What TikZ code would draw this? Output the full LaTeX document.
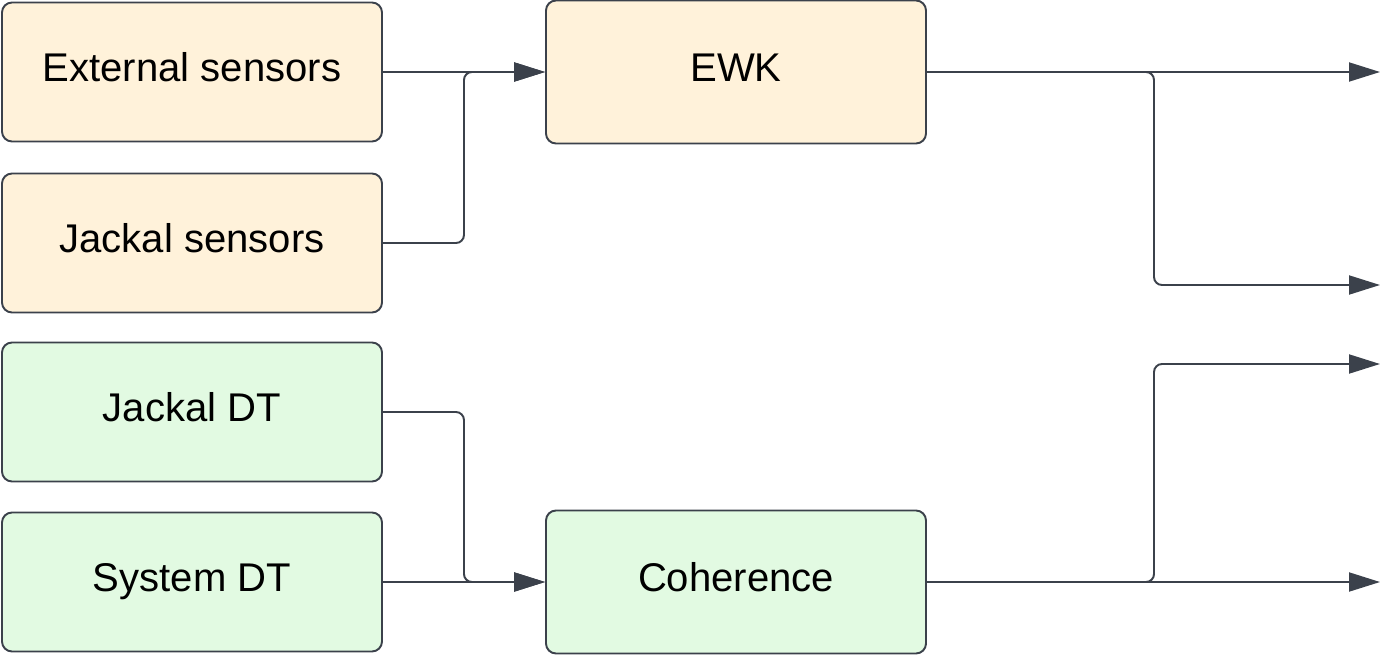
\documentclass[tikz,border=0pt]{standalone}
\usepackage{fontspec}
\setmainfont{Liberation Sans}
\usetikzlibrary{arrows.meta}
\definecolor{edgegray}{HTML}{3B414B}
\definecolor{sandfill}{HTML}{FFF2DA}
\definecolor{mintfill}{HTML}{E2FAE2}
\begin{document}
\begin{tikzpicture}[
    block/.style={draw=edgegray,line width=1.1pt,rounded corners=0.2cm,
       minimum width=7.6cm,minimum height=2.78cm,
       text height=0.58cm,text depth=0.2cm,
       font=\fontsize{22.8}{27}\selectfont,text=black},
    sensorbox/.style={block,fill=sandfill},
    dtbox/.style={block,fill=mintfill},
    link/.style={draw=edgegray,line width=1.1pt,rounded corners=0.16cm,
       -{Triangle[length=0.62cm,width=0.38cm]}}
  ]
         \useasboundingbox (0,0) rectangle (27.6,13.12) ;
         % inputs
         \node[sensorbox] (ext) at (3.84,11.68) {External sensors} ;
         \node[sensorbox] (jsens) at (3.84,8.26) {Jackal sensors} ;
         \node[dtbox] (jdt) at (3.84,4.88) {Jackal DT} ;
         \node[dtbox] (sdt) at (3.84,1.48) {System DT} ;
         % processing
         \node[sensorbox,minimum height=2.86cm] (ewk) at (14.72,11.68) {EWK} ;
         \node[dtbox,minimum height=2.86cm] (coh) at (14.72,1.48) {Coherence} ;
         % free ends
         \coordinate (split1) at (23.08,11.68) ;
         \coordinate (split2) at (23.08,1.48) ;
         \coordinate (out1) at (27.6,11.68) ;
         \coordinate (out2) at (27.6,7.42) ;
         \coordinate (out3) at (27.6,5.84) ;
         \coordinate (out4) at (27.6,1.48) ;
         \draw[link] (ext.east) -- (ewk.west) ;
         \draw[link] (jsens.east) -- ++(1.62,0) |- (ewk.west) ;
         \draw[link] (sdt.east) -- (coh.west) ;
         \draw[link] (jdt.east) -- ++(1.62,0) |- (coh.west) ;
         \draw[link] (ewk.east) -- (out1) ;
         \draw[link] (ewk.east) -- (split1) |- (out2) ;
         \draw[link] (coh.east) -- (out4) ;
         \draw[link] (coh.east) -- (split2) |- (out3) ;
      \end{tikzpicture}
\end{document}
